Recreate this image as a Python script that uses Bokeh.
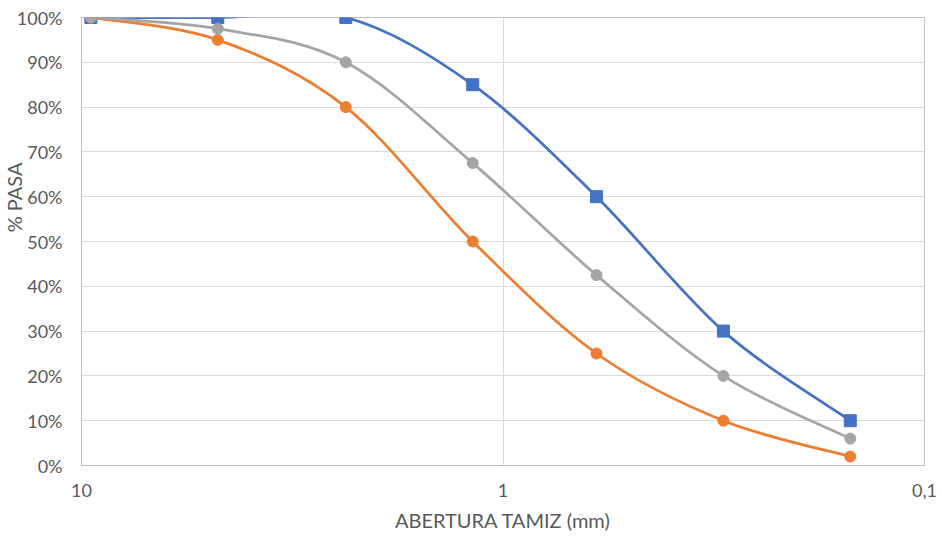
import math
from bokeh.plotting import figure
from bokeh.models import (Range1d, FixedTicker, NumeralTickFormatter,
                          CustomJSTickFormatter, SingleIntervalTicker, Title)
from bokeh.embed import file_html
from bokeh.resources import INLINE

# Data
sieve_mm = [9.5, 4.75, 2.36, 1.18, 0.6, 0.3, 0.15]
blue_pass = [1.00, 1.00, 1.00, 0.85, 0.60, 0.30, 0.10]
orange_pass = [1.00, 0.95, 0.80, 0.50, 0.25, 0.10, 0.02]
gray_pass = [1.00, 0.975, 0.90, 0.675, 0.425, 0.20, 0.06]
x_ticks = [10, 1, 0.1]
x_title = "ABERTURA TAMIZ (mm)"
y_title = "% PASA"

BLUE = "#4472C4"
ORANGE = "#ED7D31"
GRAY = "#A5A5A5"
TXT = "#595959"
FONT = "Lato"

p = figure(width=942, height=537, x_axis_type="log",
           x_range=Range1d(10, 0.1), y_range=Range1d(0, 1),
           output_backend="svg", toolbar_location=None,
           min_border_left=81, min_border_right=18,
           min_border_top=17, min_border_bottom=72)
p.background_fill_color = "white"
p.border_fill_color = "white"
p.outline_line_color = "#BFBFBF"
p.outline_line_width = 1


def smooth_segments(xs, ys):
    """Catmull-Rom style bezier control points computed in log-x space."""
    lx = [math.log10(v) for v in xs]
    n = len(xs)
    out = dict(x0=[], y0=[], x1=[], y1=[], cx0=[], cy0=[], cx1=[], cy1=[])
    for i in range(n - 1):
        i0 = max(i - 1, 0)
        i3 = min(i + 2, n - 1)
        c0x = lx[i] + (lx[i + 1] - lx[i0]) / 6.0
        c0y = ys[i] + (ys[i + 1] - ys[i0]) / 6.0
        c1x = lx[i + 1] - (lx[i3] - lx[i]) / 6.0
        c1y = ys[i + 1] - (ys[i3] - ys[i]) / 6.0
        out["x0"].append(xs[i]); out["y0"].append(ys[i])
        out["x1"].append(xs[i + 1]); out["y1"].append(ys[i + 1])
        out["cx0"].append(10 ** c0x); out["cy0"].append(c0y)
        out["cx1"].append(10 ** c1x); out["cy1"].append(c1y)
    return out


for ys, col, marker, size in [(blue_pass, BLUE, "square", 12),
                              (orange_pass, ORANGE, "circle", 11),
                              (gray_pass, GRAY, "circle", 11)]:
    seg = smooth_segments(sieve_mm, ys)
    p.bezier(line_color=col, line_width=2.75, **seg)
    p.scatter(sieve_mm, ys, marker=marker, size=size,
              fill_color=col, line_color=col)

# Axes
xa = p.xaxis[0]
xa.ticker = FixedTicker(ticks=x_ticks, minor_ticks=[])
xa.formatter = CustomJSTickFormatter(code="return tick.toString().replace('.', ',');")
xa.axis_label = x_title
xa.major_label_standoff = 18
xa.axis_label_standoff = 8

ya = p.yaxis[0]
ya.ticker = SingleIntervalTicker(interval=0.1, num_minor_ticks=0)
ya.formatter = NumeralTickFormatter(format="0%")
ya.major_label_standoff = 19

for ax in (xa, ya):
    ax.axis_line_color = None
    ax.major_tick_line_color = None
    ax.minor_tick_line_color = None
    ax.major_tick_out = 0
    ax.major_tick_in = 0
    ax.minor_tick_out = 0
    ax.minor_tick_in = 0
    ax.major_label_text_font = FONT
    ax.major_label_text_font_size = "18px"
    ax.major_label_text_color = TXT
    ax.axis_label_text_font = FONT
    ax.axis_label_text_font_size = "20px"
    ax.axis_label_text_font_style = "normal"
    ax.axis_label_text_color = TXT

ytitle = Title(text=y_title, align="right", offset=145, standoff=-24,
               vertical_align="bottom", text_font=FONT,
               text_font_size="20px", text_font_style="normal",
               text_color=TXT)
p.add_layout(ytitle, "left")

p.xgrid.grid_line_color = "#D9D9D9"
p.ygrid.grid_line_color = "#D9D9D9"
p.xgrid.minor_grid_line_color = None
p.ygrid.minor_grid_line_color = None

open("out.html", "w").write(file_html(p, INLINE))
